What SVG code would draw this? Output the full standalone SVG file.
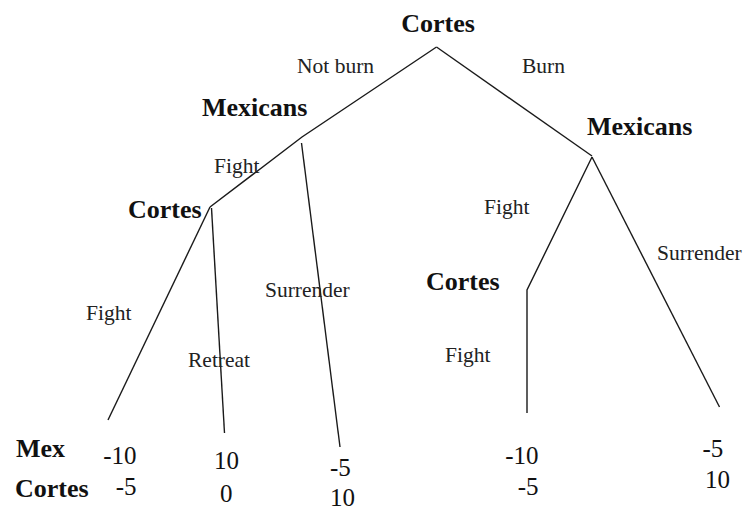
<svg xmlns="http://www.w3.org/2000/svg" width="749" height="511" viewBox="0 0 749 511">
<style>
.b{font-family:"Liberation Serif","Times New Roman",serif;font-weight:bold;font-size:26px;fill:#111}
.l{font-family:"Liberation Serif","Times New Roman",serif;font-size:21.5px;fill:#222}
.n{font-family:"Liberation Serif","Times New Roman",serif;font-size:25px;fill:#111}
.e{stroke:#1a1a1a;stroke-width:1.4;fill:none}
</style>
<rect width="749" height="511" fill="#fff"/>
<g id="connectors">
<polyline class="e" points="436.5,47 302,137 210,207"/>
<line class="e" x1="301.5" y1="143" x2="340" y2="447"/>
<line class="e" x1="210" y1="207" x2="108" y2="420"/>
<line class="e" x1="211.5" y1="208" x2="224.5" y2="433"/>
<line class="e" x1="436.5" y1="47" x2="592" y2="156"/>
<polyline class="e" points="592,157 527,290 527,413"/>
<line class="e" x1="592" y1="157" x2="719.5" y2="407"/>
</g>
<g id="labels">
<text class="l" x="297" y="73">Not burn</text>
<text class="l" x="522" y="73">Burn</text>
<text class="l" x="214" y="173">Fight</text>
<text class="l" x="484" y="214">Fight</text>
<text class="l" x="265" y="297">Surrender</text>
<text class="l" x="86" y="320">Fight</text>
<text class="l" x="188" y="366.5">Retreat</text>
<text class="l" x="445" y="361.5">Fight</text>
<text class="l" x="657" y="260">Surrender</text>
</g>
<g id="node-root"><text class="b" x="438" y="32" text-anchor="middle">Cortes</text></g>
<g id="node-mex-left"><text class="b" x="202" y="115.5">Mexicans</text></g>
<g id="node-mex-right"><text class="b" x="587" y="135">Mexicans</text></g>
<g id="node-cortes-left"><text class="b" x="128" y="218">Cortes</text></g>
<g id="node-cortes-right"><text class="b" x="426" y="290">Cortes</text></g>
<g id="payoff-legend">
<text class="b" x="16" y="456.5">Mex</text>
<text class="b" x="15" y="496.5">Cortes</text>
</g>
<g id="payoffs">
<text class="n" x="136.5" y="464" text-anchor="end">-10</text>
<text class="n" x="136.5" y="495" text-anchor="end">-5</text>
<text class="n" x="214" y="469">10</text>
<text class="n" x="220" y="501.5">0</text>
<text class="n" x="330" y="475.5">-5</text>
<text class="n" x="330" y="506">10</text>
<text class="n" x="538.5" y="464" text-anchor="end">-10</text>
<text class="n" x="538.5" y="495" text-anchor="end">-5</text>
<text class="n" x="702.5" y="456.5">-5</text>
<text class="n" x="705" y="488">10</text>
</g>
</svg>
